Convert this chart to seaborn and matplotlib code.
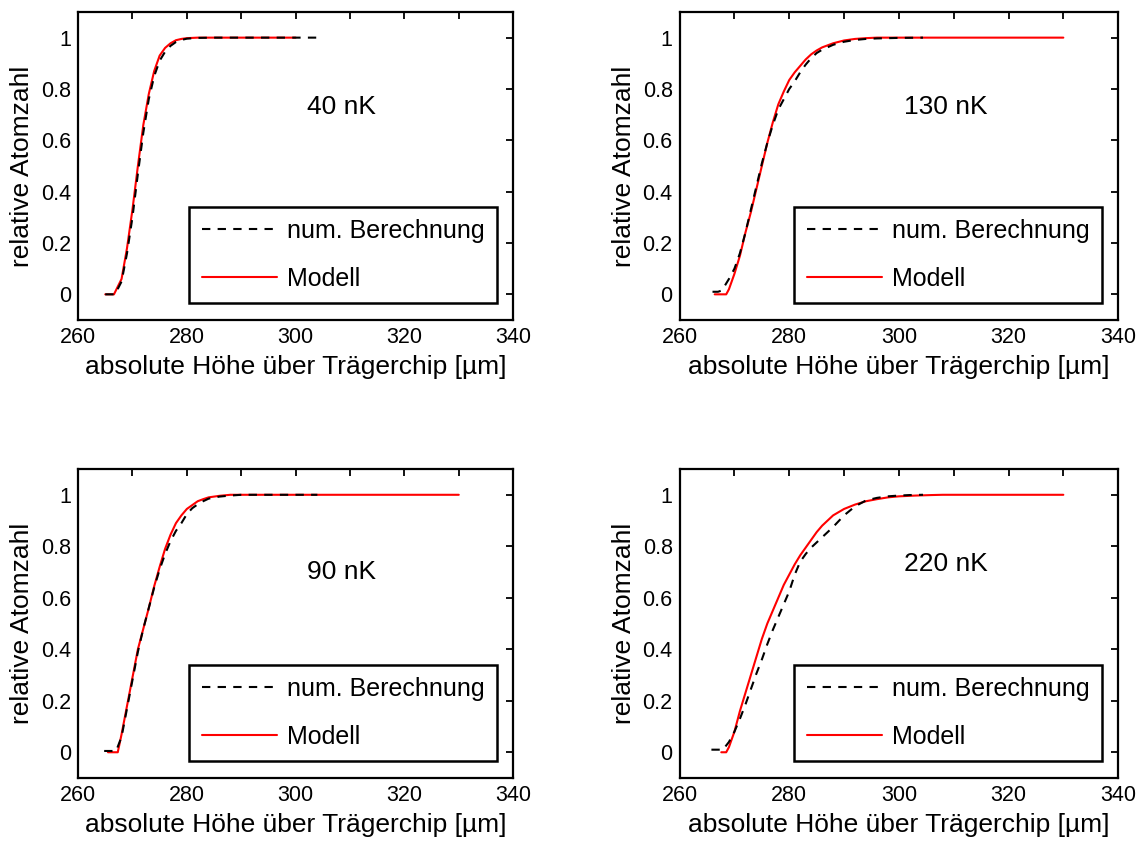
import numpy as np
import pandas as pd
import matplotlib
matplotlib.use("Agg")
import matplotlib.pyplot as plt
from matplotlib.ticker import MultipleLocator
import seaborn as sns

sns.set_style("white")
plt.rcParams['font.family'] = ['Liberation Sans', 'DejaVu Sans']
plt.rcParams['text.color'] = 'black'
plt.rcParams['axes.labelcolor'] = 'black'

# 40 nK
num_x_40 = [265, 266.8, 268, 269, 270, 271, 272, 273, 274, 275, 276, 277, 278, 279, 280, 282, 285, 290, 295, 300, 304.5]
num_y_40 = [0, 0, 0.05, 0.16, 0.30, 0.47, 0.63, 0.76, 0.85, 0.91, 0.945, 0.968, 0.983, 0.991, 0.996, 0.999, 1, 1, 1, 1, 1]
mod_x_40 = [265, 266.6, 268, 269, 270, 271, 272, 273, 274, 275, 276, 277, 278, 279, 280, 282, 285, 290, 295, 300]
mod_y_40 = [0, 0, 0.06, 0.18, 0.33, 0.50, 0.66, 0.78, 0.87, 0.93, 0.96, 0.978, 0.99, 0.995, 0.998, 1, 1, 1, 1, 1]

# 130 nK
num_x_130 = [266, 267, 267.7, 268, 269, 270, 271, 272, 273, 274, 275, 276, 277, 278, 279, 280, 281, 282, 283, 284,
             285, 286, 288, 290, 292, 294, 296, 298, 300, 304.4]
num_y_130 = [0.01, 0.01, 0.015, 0.025, 0.06, 0.10, 0.16, 0.24, 0.33, 0.42, 0.51, 0.59, 0.66, 0.72, 0.76, 0.80, 0.83,
             0.865, 0.895, 0.92, 0.94, 0.953, 0.972, 0.984, 0.991, 0.995, 0.997, 0.998, 0.999, 1.0]
mod_x_130 = [266.4, 268.5, 269, 270, 271, 272, 273, 274, 275, 276, 277, 278, 279, 280, 281, 282, 283, 284, 285, 286,
             288, 290, 292, 294, 296, 300, 310, 320, 330]
mod_y_130 = [0, 0, 0.02, 0.08, 0.15, 0.24, 0.32, 0.41, 0.50, 0.59, 0.67, 0.74, 0.79, 0.835, 0.865, 0.89, 0.915, 0.935,
             0.95, 0.962, 0.978, 0.989, 0.995, 0.998, 1, 1, 1, 1, 1]

# 90 nK
num_x_90 = [264.8, 267, 268, 269, 270, 271, 272, 273, 274, 275, 276, 277, 278, 279, 280, 281, 282, 283, 284, 286,
            288, 290, 295, 300, 304]
num_y_90 = [0.005, 0.005, 0.06, 0.17, 0.28, 0.39, 0.48, 0.56, 0.64, 0.71, 0.77, 0.82, 0.86, 0.89, 0.925, 0.948, 0.963,
            0.975, 0.985, 0.993, 0.997, 1, 1, 1, 1]
mod_x_90 = [265.5, 267.3, 268, 269, 270, 271, 272, 273, 274, 275, 276, 277, 278, 279, 280, 281, 282, 283, 284, 286,
            288, 290, 300, 310, 320, 330]
mod_y_90 = [0, 0, 0.07, 0.18, 0.29, 0.40, 0.48, 0.56, 0.645, 0.72, 0.79, 0.845, 0.89, 0.92, 0.945, 0.96, 0.975, 0.983,
            0.99, 0.996, 1, 1, 1, 1, 1, 1]

# 220 nK
num_x_220 = [265.8, 267.9, 269, 270, 271, 272, 273, 274, 275, 276, 277, 278, 279, 280, 281, 282, 283, 284, 285, 286,
             288, 290, 292, 294, 296, 298, 300, 302, 304.4]
num_y_220 = [0.01, 0.01, 0.04, 0.08, 0.13, 0.185, 0.245, 0.305, 0.36, 0.42, 0.475, 0.525, 0.575, 0.625, 0.69, 0.74,
             0.77, 0.795, 0.815, 0.835, 0.875, 0.92, 0.955, 0.978, 0.988, 0.994, 0.997, 0.999, 1.0]
mod_x_220 = [267.6, 268.5, 269, 270, 271, 272, 273, 274, 275, 276, 277, 278, 279, 280, 281, 282, 283, 284, 285, 286,
             288, 290, 292, 294, 296, 298, 300, 303, 306, 308, 315, 320, 330]
mod_y_220 = [0, 0, 0.02, 0.08, 0.16, 0.23, 0.30, 0.37, 0.44, 0.50, 0.55, 0.60, 0.65, 0.69, 0.73, 0.765, 0.795, 0.825,
             0.855, 0.88, 0.92, 0.945, 0.962, 0.975, 0.983, 0.99, 0.994, 0.997, 0.999, 1, 1, 1, 1]

temp_labels = ['40 nK', '130 nK', '90 nK', '220 nK']
label_y = [0.73, 0.73, 0.70, 0.73]
x_ticks = [260, 280, 300, 320, 340]
y_ticks = [0, 0.2, 0.4, 0.6, 0.8, 1]
y_tick_labels = ['0', '0.2', '0.4', '0.6', '0.8', '1']

panels = [
    (num_x_40, num_y_40, mod_x_40, mod_y_40),
    (num_x_130, num_y_130, mod_x_130, mod_y_130),
    (num_x_90, num_y_90, mod_x_90, mod_y_90),
    (num_x_220, num_y_220, mod_x_220, mod_y_220),
]

positions = [
    [0.068, 0.6204, 0.379, 0.3654],
    [0.592, 0.6204, 0.382, 0.3654],
    [0.068, 0.0771, 0.379, 0.3665],
    [0.592, 0.0771, 0.382, 0.3665],
]

fig = plt.figure(figsize=(11.48, 8.43), dpi=100)

for i, (nx, ny, mx, my) in enumerate(panels):
    ax = fig.add_axes(positions[i])
    sns.lineplot(x=mx, y=my, ax=ax, color='#ff0000', linewidth=1.5, label='Modell', zorder=2)
    sns.lineplot(x=nx, y=ny, ax=ax, color='black', linewidth=1.5, linestyle=(0, (4, 3.5)),
                 label='num. Berechnung', zorder=3)

    ax.set_xlim(260, 340)
    ax.set_ylim(-0.1, 1.1)
    ax.set_xticks(x_ticks)
    ax.xaxis.set_minor_locator(MultipleLocator(10))
    ax.set_yticks(y_ticks)
    ax.set_yticklabels(y_tick_labels)
    ax.tick_params(which='both', direction='in', length=5, width=1.3, top=True, right=True,
                   labelsize=15.5, pad=5, colors='black')
    for sp in ax.spines.values():
        sp.set_visible(True)
        sp.set_color('black')
        sp.set_linewidth(1.6)

    ax.set_xlabel('absolute Höhe über Trägerchip [µm]', fontsize=19, labelpad=5)
    ax.set_ylabel('relative Atomzahl', fontsize=19, labelpad=5)
    ax.text(308.5, label_y[i], temp_labels[i], ha='center', va='center', fontsize=19)

    handles, labels = ax.get_legend_handles_labels()
    leg = ax.legend(handles[::-1], labels[::-1], loc='lower right', bbox_to_anchor=(0.9625, 0.054),
                    borderaxespad=0, fontsize=18, handlelength=3.0, handletextpad=0.4,
                    borderpad=0.5, labelspacing=0.95, fancybox=False, framealpha=1, edgecolor='black')
    leg.get_frame().set_linewidth(1.8)

fig.savefig('out.png', dpi=100)
